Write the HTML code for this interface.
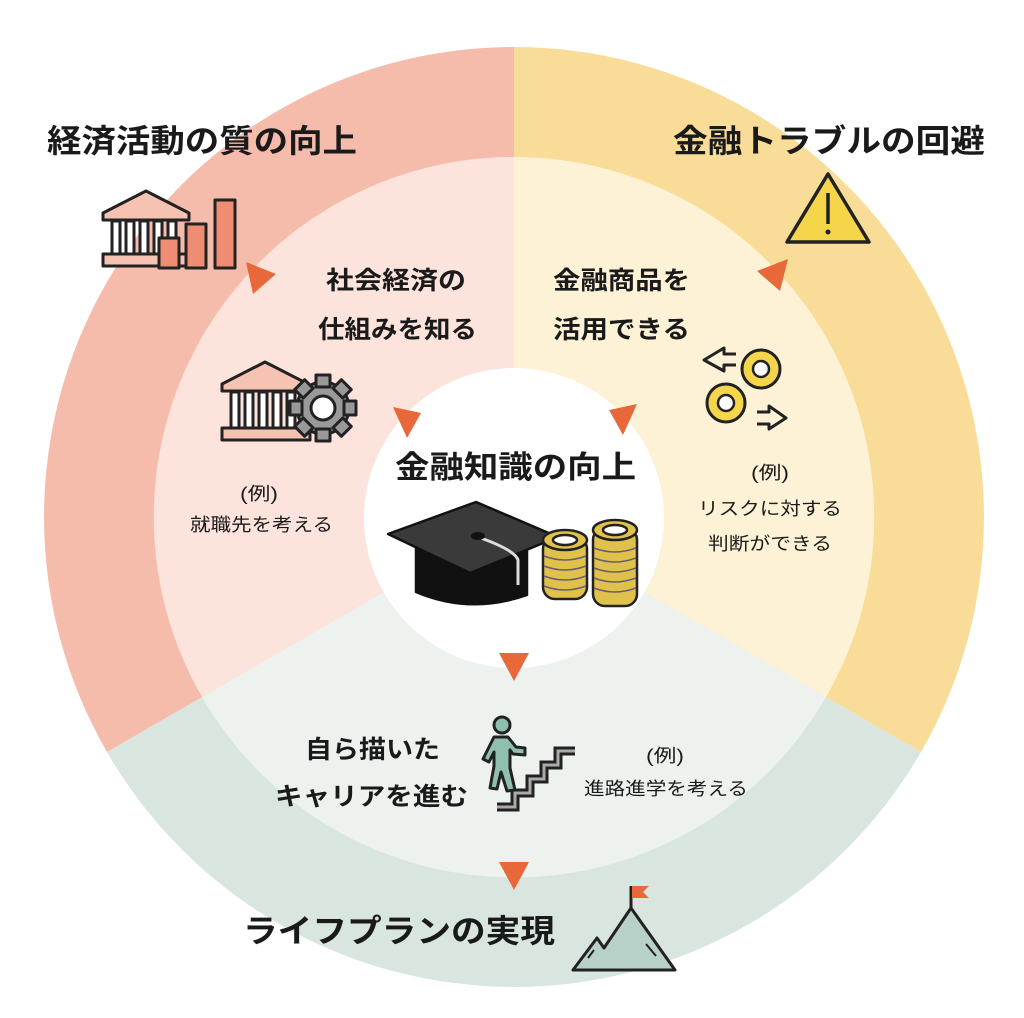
<!DOCTYPE html>
<html><head><meta charset="utf-8"><style>
html,body{margin:0;padding:0;background:#fff}
svg{display:block}
text{font-family:"Liberation Sans","Noto Sans CJK JP",sans-serif;fill:#1a1a1a;font-weight:bold}
.s{font-weight:normal;font-size:18px}
</style></head><body>
<svg width="1024" height="1018" viewBox="0 0 1024 1018">
<path d="M514 517 L514 47 A470 470 0 0 0 107 752 Z" fill="#f5bcab"/>
<path d="M514 517 L514 47 A470 470 0 0 1 921 752 Z" fill="#f9dc98"/>
<path d="M514 517 L107 752 A470 470 0 0 0 921 752 Z" fill="#d9e6df"/>
<path d="M514 517 L514 157 A360 360 0 0 0 202 697 Z" fill="#fce3dc"/>
<path d="M514 517 L514 157 A360 360 0 0 1 826 697 Z" fill="#fdf2d6"/>
<path d="M514 517 L202 697 A360 360 0 0 0 826 697 Z" fill="#edf2ef"/>
<circle cx="514" cy="518" r="150" fill="#fff"/>

<text x="47" y="152" font-size="32" textLength="310" lengthAdjust="spacingAndGlyphs">経済活動の質の向上</text>
<text x="673" y="152" font-size="32" textLength="312" lengthAdjust="spacingAndGlyphs">金融トラブルの回避</text>
<text x="243" y="942" font-size="32" textLength="312" lengthAdjust="spacingAndGlyphs">ライフプランの実現</text>

<text x="326" y="289" font-size="25" textLength="140" lengthAdjust="spacingAndGlyphs">社会経済の</text>
<text x="318" y="338" font-size="25" textLength="159" lengthAdjust="spacingAndGlyphs">仕組みを知る</text>
<text x="553" y="289" font-size="25" textLength="137" lengthAdjust="spacingAndGlyphs">金融商品を</text>
<text x="553" y="338" font-size="25" textLength="137" lengthAdjust="spacingAndGlyphs">活用できる</text>
<text x="305" y="758" font-size="25" textLength="135" lengthAdjust="spacingAndGlyphs">自ら描いた</text>
<text x="275" y="805" font-size="25" textLength="193" lengthAdjust="spacingAndGlyphs">キャリアを進む</text>
<text x="395" y="478" font-size="31" textLength="241" lengthAdjust="spacingAndGlyphs">金融知識の向上</text>

<text class="s" x="240" y="500" textLength="38" lengthAdjust="spacingAndGlyphs">(例)</text>
<text class="s" x="190" y="531" textLength="143" lengthAdjust="spacingAndGlyphs">就職先を考える</text>
<text class="s" x="751" y="479" textLength="38" lengthAdjust="spacingAndGlyphs">(例)</text>
<text class="s" x="698" y="515" textLength="144" lengthAdjust="spacingAndGlyphs">リスクに対する</text>
<text class="s" x="708" y="550" textLength="124" lengthAdjust="spacingAndGlyphs">判断ができる</text>
<text class="s" x="646" y="762" textLength="38" lengthAdjust="spacingAndGlyphs">(例)</text>
<text class="s" x="584" y="795" textLength="164" lengthAdjust="spacingAndGlyphs">進路進学を考える</text>

<g fill="#e8683a">
<polygon points="246,262 276,274 253,294"/>
<polygon points="788,259 757,271 780,291"/>
<polygon points="393,407 421,413 407,438"/>
<polygon points="637,404 609,410 623,435"/>
<polygon points="499,653 529,653 514,681"/>
<polygon points="499,862 529,862 514,890"/>
</g>

<g stroke="#222" stroke-width="3" stroke-linejoin="round">
<polygon points="103,213 146,191 189,213 189,220 103,220" fill="#f6c3b2"/>
<rect x="103" y="254" width="87" height="12" fill="#f6c3b2"/>
<g fill="#fff"><rect x="112" y="221" width="8" height="33"/><rect x="126" y="221" width="8" height="33"/><rect x="140" y="221" width="8" height="33"/><rect x="154" y="221" width="8" height="33"/><rect x="168" y="221" width="8" height="33"/></g>
<rect x="159" y="238" width="20" height="30" fill="#ef8c74"/>
<rect x="186" y="224" width="20" height="44" fill="#ef8c74"/>
<rect x="215" y="200" width="20" height="68" fill="#ef8c74"/>
</g>

<g stroke="#222" stroke-width="3" stroke-linejoin="round">
<polygon points="222,384 265,362 308,384 308,391 222,391" fill="#f6c3b2"/>
<rect x="222" y="428" width="88" height="12" fill="#f6c3b2"/>
<g fill="#fff"><rect x="231" y="392" width="8" height="36"/><rect x="245" y="392" width="8" height="36"/><rect x="259" y="392" width="8" height="36"/><rect x="273" y="392" width="8" height="36"/><rect x="287" y="392" width="8" height="36"/></g>
<g fill="#999">
<circle cx="323" cy="408" r="26"/>
<g><rect x="316" y="375" width="14" height="12"/><rect x="316" y="429" width="14" height="12"/><rect x="290" y="401" width="12" height="14"/><rect x="344" y="401" width="12" height="14"/>
<rect x="316" y="375" width="14" height="12" transform="rotate(45 323 408)"/><rect x="316" y="375" width="14" height="12" transform="rotate(135 323 408)"/><rect x="316" y="375" width="14" height="12" transform="rotate(225 323 408)"/><rect x="316" y="375" width="14" height="12" transform="rotate(315 323 408)"/></g>
</g>
<circle cx="323" cy="408" r="12" fill="#fff"/>
</g>

<g stroke="#222" stroke-width="3.5" stroke-linejoin="round">
<polygon points="828,174 869,242 787,242" fill="#f5d54a"/>
<line x1="828" y1="193" x2="828" y2="224"/>
</g>
<circle cx="828" cy="232" r="2.5" fill="#222"/>

<g stroke="#222" stroke-width="3" fill="#f5d54a">
<circle cx="761" cy="369" r="19"/><circle cx="726" cy="403" r="19"/>
</g>
<g fill="#fff" stroke="#222" stroke-width="2.5"><circle cx="761" cy="369" r="8"/><circle cx="726" cy="403" r="8"/></g>
<g fill="none" stroke="#222" stroke-width="3" stroke-linejoin="round">
<polyline points="736,354 724,354 724,348 704,360 724,371 724,365 736,365"/>
<polyline points="757,412 769,412 769,406 786,418 769,429 769,424 757,424"/>
</g>

<g stroke="#111" stroke-width="2.5" stroke-linejoin="round">
<path d="M416 535 L416 592 Q470 615 527 595 L527 540 Z" fill="#111"/>
<polygon points="388,534 476,502 558,537 470,573" fill="#3a3a3a"/>
</g>
<path d="M478 537 Q515 550 518 560 L518 585" stroke="#ddd" stroke-width="3" fill="none"/>
<ellipse cx="478" cy="536" rx="7" ry="4" fill="#111"/>
<g stroke="#222" stroke-width="2.5">
<rect x="543" y="537" width="44" height="62" rx="12" fill="#e0c24a"/>
<ellipse cx="565" cy="540" rx="22" ry="10" fill="#e0c24a"/>
<ellipse cx="565" cy="540" rx="12" ry="5" fill="#fff"/>
<rect x="593" y="528" width="44" height="78" rx="12" fill="#e0c24a"/>
<ellipse cx="615" cy="530" rx="22" ry="10" fill="#e0c24a"/>
<ellipse cx="615" cy="530" rx="12" ry="5" fill="#fff"/>
</g>
<g stroke="#6a5a7a" stroke-width="1.5" fill="none">
<path d="M544 556 Q565 564 586 556 M544 566 Q565 574 586 566 M544 576 Q565 584 586 576 M544 586 Q565 594 586 586"/>
<path d="M594 548 Q615 556 636 548 M594 558 Q615 566 636 558 M594 568 Q615 576 636 568 M594 578 Q615 586 636 578 M594 588 Q615 596 636 588"/>
</g>

<g stroke-linejoin="miter" fill="none">
<polyline points="497,807 515,807 515,793 530,793 530,779 544,779 544,765 558,765 558,751 575,751" stroke="#222" stroke-width="9"/>
<polyline points="497,807 515,807 515,793 530,793 530,779 544,779 544,765 558,765 558,751 575,751" stroke="#aaa" stroke-width="3"/>
</g>
<g stroke="#222" stroke-width="3" stroke-linejoin="round">
<circle cx="502" cy="725" r="8" fill="#8fbfae"/>
<path d="M494 737 L508 737 L516 747 L525 748 L525 755 L513 754 L510 750 L510 768 L515 790 L507 791 L501 772 L497 789 L490 788 L494 766 L494 752 L489 762 L483 759 Z" fill="#8fbfae"/>
</g>

<g stroke="#222" stroke-width="3" stroke-linejoin="round">
<polygon points="573,970 597,938 604,948 631,908 675,970" fill="#b8d1c8"/>
<line x1="631" y1="908" x2="631" y2="886"/>
</g>
<polygon points="632,886 649,886 643,892 649,898 632,898" fill="#e8683a"/>
<g stroke="#222" stroke-width="2"><line x1="646" y1="944" x2="656" y2="956"/><line x1="588" y1="958" x2="594" y2="950"/></g>
</svg>
</body></html>
